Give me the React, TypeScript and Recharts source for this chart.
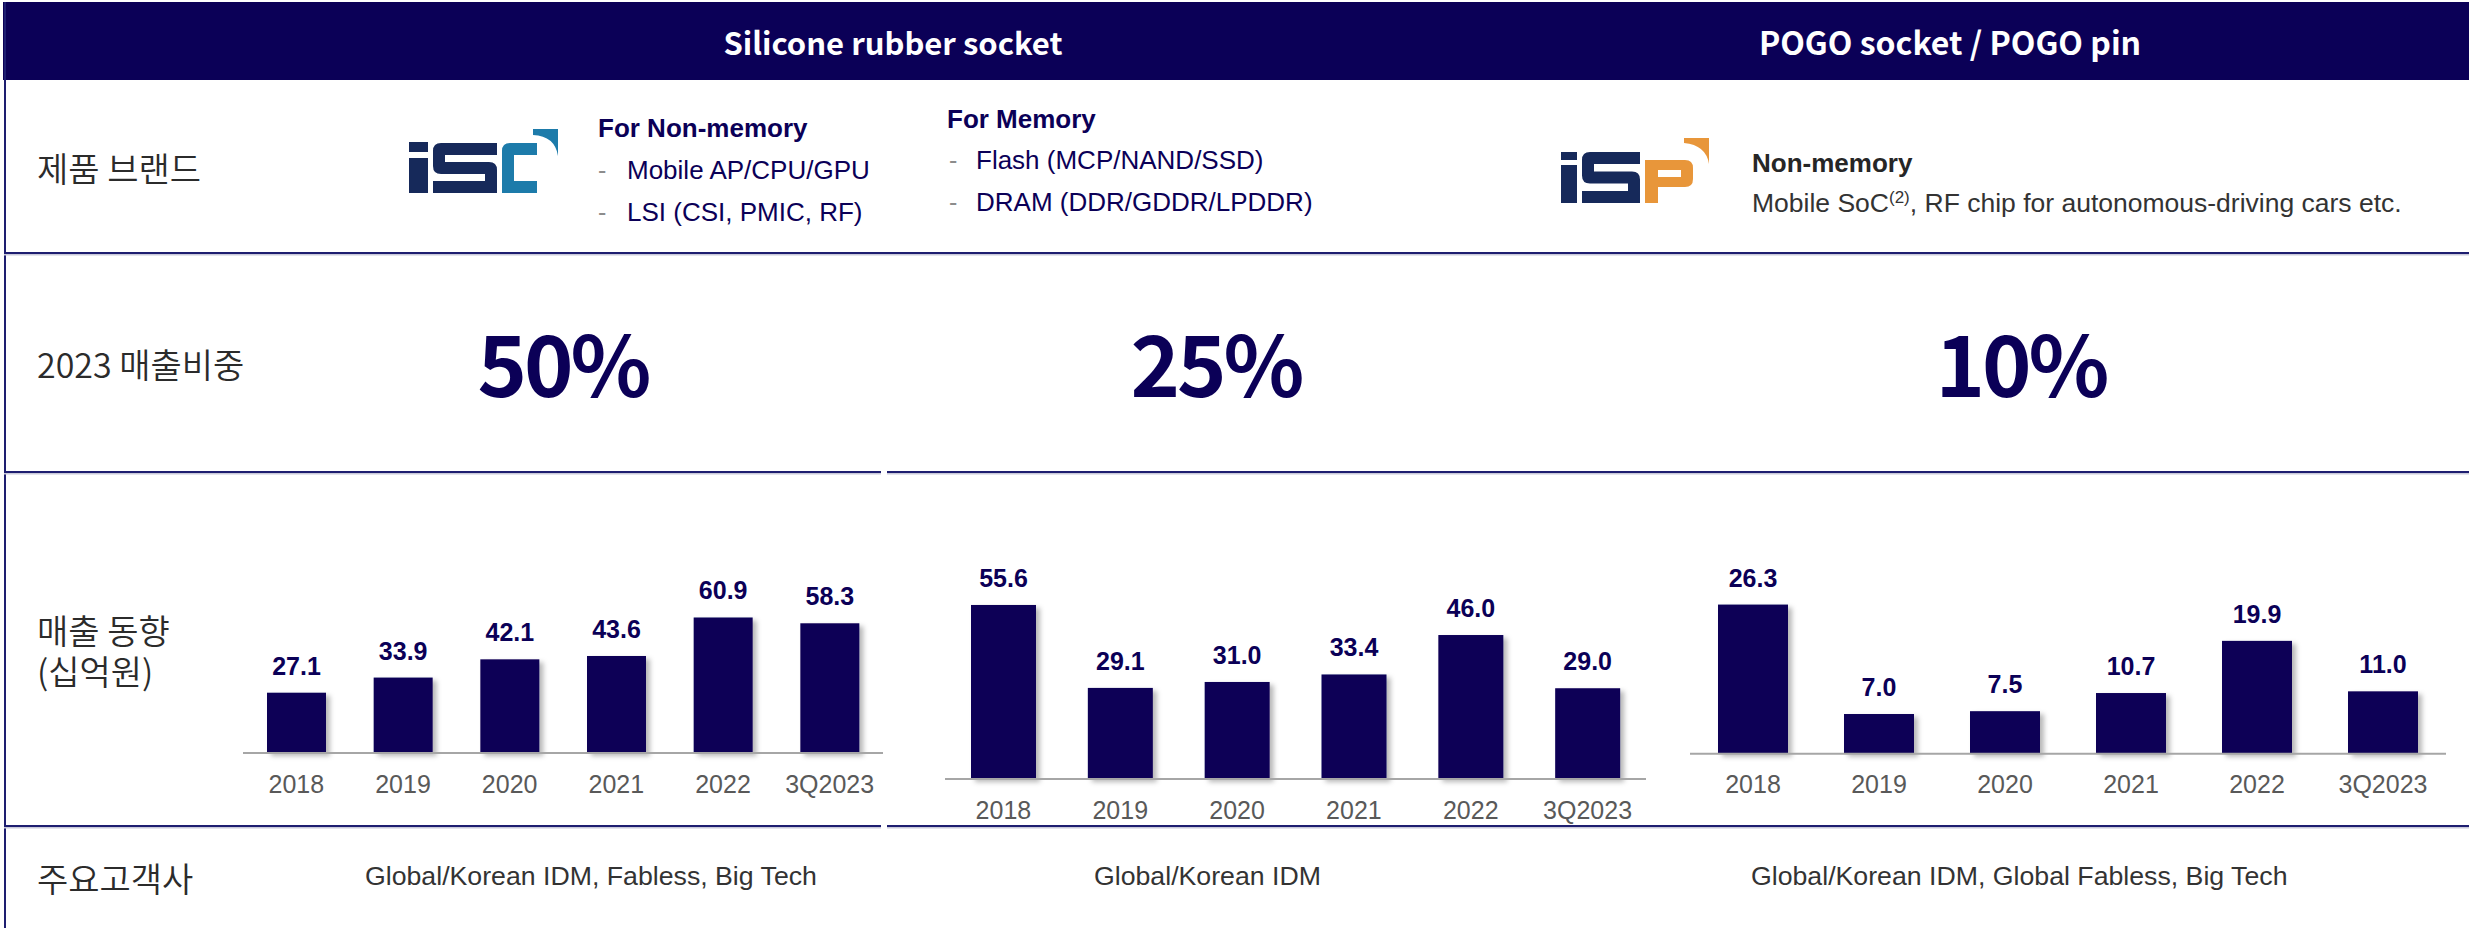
import React from 'react';
import { BarChart, Bar, XAxis, YAxis, LabelList } from 'recharts';

const categories = ['2018', '2019', '2020', '2021', '2022', '3Q2023'];
const nonMemorySales = [27.1, 33.9, 42.1, 43.6, 60.9, 58.3];
const memorySales = [55.6, 29.1, 31.0, 33.4, 46.0, 29.0];
const pogoSales = [26.3, 7.0, 7.5, 10.7, 19.9, 11.0];

const sectionTitles = ['Silicone rubber socket', 'POGO socket / POGO pin'];
const rowLabels = ['제품 브랜드', '2023 매출비중', '매출 동향', '(십억원)', '주요고객사'];
const shareLabels = ['50%', '25%', '10%'];
const nonMemoryTitle = 'For Non-memory';
const nonMemoryItems = ['Mobile AP/CPU/GPU', 'LSI (CSI, PMIC, RF)'];
const memoryTitle = 'For Memory';
const memoryItems = ['Flash (MCP/NAND/SSD)', 'DRAM (DDR/GDDR/LPDDR)'];
const pogoTitle = 'Non-memory';
const customers = ['Global/Korean IDM, Fabless, Big Tech', 'Global/Korean IDM', 'Global/Korean IDM, Global Fabless, Big Tech'];

const NAVY = '#0B0057';
const LINE = '#1E1E70';
const KR = "'Noto Sans CJK KR', 'Noto Sans', sans-serif";
const LAT = "'Liberation Sans', Arial, sans-serif";

const toRows = (vals: number[]) => categories.map((c, i) => ({ cat: c, v: vals[i] }));

const ShadowBar = (p: any) => (
  <rect x={p.x} y={p.y} width={p.width} height={p.height} fill={NAVY} filter="url(#barShadow)" />
);

type ChartProps = {
  vals: number[]; left: number; top: number; width: number; height: number;
  max: number; mTop: number; mBottom: number; barSize: number;
};

const SalesChart = ({ vals, left, top, width, height, max, mTop, mBottom, barSize }: ChartProps) => (
  <div style={{ position: 'absolute', left, top }}>
    <BarChart width={width} height={height} data={toRows(vals)} margin={{ top: mTop, right: 0, bottom: mBottom, left: 0 }}>
      <XAxis
        dataKey="cat"
        interval={0}
        height={60}
        tickLine={false}
        tickMargin={16}
        axisLine={{ stroke: '#A6A6A6', strokeWidth: 2 }}
        tick={{ fill: '#595959', fontSize: 25, fontFamily: LAT }}
      />
      <YAxis hide domain={[0, max]} />
      <Bar dataKey="v" barSize={barSize} fill={NAVY} isAnimationActive={false} shape={ShadowBar}>
        <LabelList
          dataKey="v"
          position="top"
          offset={18}
          formatter={(v: any) => Number(v).toFixed(1)}
          fill={NAVY}
          fontSize={25}
          fontWeight={700}
          fontFamily={LAT}
        />
      </Bar>
    </BarChart>
  </div>
);

const Hline = ({ y, x1, x2 }: { y: number; x1: number; x2: number }) => (
  <g>
    <rect x={x1} y={y} width={x2 - x1} height={2} fill={LINE} />
    <rect x={x1} y={y + 2} width={x2 - x1} height={1.5} fill="#C9C9DA" />
  </g>
);

const labelStyle = { fill: '#2B2B2B', fontFamily: KR, fontWeight: 350, fontSize: 34 } as const;

const RowLabel = ({ y, t }: { y: number; t: string }) => (
  <text x={37} y={y} dominantBaseline="central" {...labelStyle}>{t}</text>
);

export default function App() {
  return (
    <div style={{ position: 'absolute', left: 0, top: 0, width: 2469, height: 928, background: '#fff', overflow: 'hidden' }}>
      <svg width={2469} height={928} style={{ position: 'absolute', left: 0, top: 0 }}>
        <defs>
          <filter id="barShadow" x="-20%" y="-20%" width="150%" height="150%">
            <feDropShadow dx="4" dy="3" stdDeviation="2.5" floodColor="#000" floodOpacity="0.28" />
          </filter>
        </defs>
        {/* header band */}
        <rect x={3} y={2} width={2466} height={78} fill={NAVY} />
        <text x={893} y={55} textAnchor="middle" fill="#fff" fontFamily={KR} fontWeight={700} fontSize={31}>{sectionTitles[0]}</text>
        <text x={1950} y={55} textAnchor="middle" fill="#fff" fontFamily={KR} fontWeight={700} fontSize={32}>{sectionTitles[1]}</text>
        {/* left border */}
        <rect x={4} y={2} width={2} height={926} fill={LINE} />
        {/* row lines */}
        <Hline y={252} x1={4} x2={2469} />
        <Hline y={471} x1={4} x2={881} />
        <Hline y={471} x1={887} x2={2469} />
        <Hline y={825} x1={4} x2={881} />
        <Hline y={825} x1={887} x2={2469} />

        {/* row labels */}
        <RowLabel y={167} t={rowLabels[0]} />
        <RowLabel y={363} t={rowLabels[1]} />
        <text x={37} y={629} dominantBaseline="central" {...labelStyle}>
          <tspan x={37}>{rowLabels[2]}</tspan>
          <tspan x={37} dy={41}>{rowLabels[3]}</tspan>
        </text>
        <RowLabel y={877} t={rowLabels[4]} />

        {/* ISC logo */}
        <g fill="#16295A">
          <rect x={409} y={142} width={19} height={10} />
          <rect x={409} y={158} width={19} height={35} />
          <path d="M441,143 H497 V155 H445 V162 H489 Q497,162 497,170 V193 H433 V181 H485 V174 H441 Q433,174 433,166 V151 Q433,143 441,143 Z" />
        </g>
        <g fill="#1D7BAA">
          <path d="M510,143 H537 V155 H514 V181 H537 V193 H502 V151 Q502,143 510,143 Z" />
          <path d="M533,129 H558 V156 Q555,136 533,135 Z" />
        </g>

        {/* non-memory text */}
        <text x={598} y={137} fill={NAVY} fontFamily={LAT} fontWeight={700} fontSize={26}>{nonMemoryTitle}</text>
        {nonMemoryItems.map((t, i) => (
          <g key={t}>
            <text x={598} y={179 + i * 42} fill="#8C8C8C" fontFamily={LAT} fontSize={25}>-</text>
            <text x={627} y={179 + i * 42} fill={NAVY} fontFamily={LAT} fontSize={26}>{t}</text>
          </g>
        ))}
        {/* memory text */}
        <text x={947} y={128} fill={NAVY} fontFamily={LAT} fontWeight={700} fontSize={26}>{memoryTitle}</text>
        {memoryItems.map((t, i) => (
          <g key={t}>
            <text x={949} y={169 + i * 42} fill="#8C8C8C" fontFamily={LAT} fontSize={25}>-</text>
            <text x={976} y={169 + i * 42} fill={NAVY} fontFamily={LAT} fontSize={26}>{t}</text>
          </g>
        ))}

        {/* ISP logo */}
        <g fill="#16295A">
          <rect x={1561} y={152} width={16} height={8} />
          <rect x={1561} y={165} width={16} height={38} />
          <path d="M1590,152 H1640 V164 H1594 V171.5 H1632 Q1640,171.5 1640,179.5 V203 H1582 V191 H1628 V183.5 H1590 Q1582,183.5 1582,175.5 V160 Q1582,152 1590,152 Z" />
        </g>
        <g fill="#E8963A">
          <path d="M1645,160 H1685 Q1693,160 1693,168 V179 Q1693,187 1685,187 H1658 V203 H1645 Z M1658,170 V177 H1681 V170 Z" fillRule="evenodd" />
          <path d="M1684,138 H1709 V164 Q1706,145 1684,143 Z" />
        </g>
        <text x={1752} y={172} fill="#262626" fontFamily={LAT} fontWeight={700} fontSize={26}>{pogoTitle}</text>
        <text x={1752} y={212} fill="#333" fontFamily={LAT} fontSize={26.5}>
          Mobile SoC<tspan fontSize={17} dy={-9}>(2)</tspan><tspan dy={9}>, RF chip for autonomous-driving cars etc.</tspan>
        </text>

        {/* shares */}
        <text x={563} y={397} textAnchor="middle" fill={NAVY} fontFamily={KR} fontWeight={700} fontSize={84} letterSpacing={-3}>{shareLabels[0]}</text>
        <text x={1216} y={397} textAnchor="middle" fill={NAVY} fontFamily={KR} fontWeight={700} fontSize={84} letterSpacing={-3}>{shareLabels[1]}</text>
        <text x={2021} y={397} textAnchor="middle" fill={NAVY} fontFamily={KR} fontWeight={700} fontSize={84} letterSpacing={-3}>{shareLabels[2]}</text>

        {/* customers */}
        <text x={365} y={885} fill="#333" fontFamily={LAT} fontSize={26.7}>{customers[0]}</text>
        <text x={1094} y={885} fill="#333" fontFamily={LAT} fontSize={26.7}>{customers[1]}</text>
        <text x={1751} y={885} fill="#333" fontFamily={LAT} fontSize={26.7}>{customers[2]}</text>
      </svg>

      <SalesChart vals={nonMemorySales} left={243} top={560} width={640} height={260} max={80} mTop={15} mBottom={7} barSize={59} />
      <SalesChart vals={memorySales} left={945} top={560} width={701} height={290} max={60} mTop={31.2} mBottom={11} barSize={65} />
      <SalesChart vals={pogoSales} left={1690} top={560} width={756} height={260} max={30} mTop={23.6} mBottom={6.3} barSize={70} />
    </div>
  );
}
